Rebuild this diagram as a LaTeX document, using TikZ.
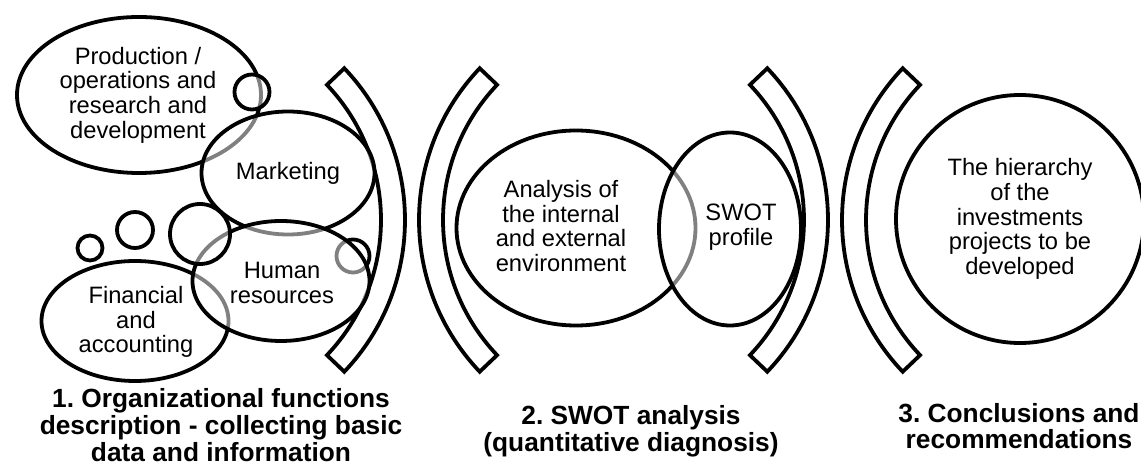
\documentclass[tikz,border=0pt]{standalone}
\usepackage{fontspec}
\setmainfont{Liberation Sans}
\usetikzlibrary{shapes.geometric}
\frenchspacing
\begin{document}
\begin{tikzpicture}[x=1pt,y=1pt,
  shp/.style={draw=black, line width=3.8pt, fill=white, fill opacity=0.5, draw opacity=1, inner sep=0pt, outer sep=0pt},
  ell/.style={shp, ellipse},
  circ/.style={shp, circle},
  lbl/.style={align=center, font=\fontsize{23.7}{24.7}\selectfont, inner sep=0pt, text opacity=1},
  ttl/.style={align=center, font=\fontsize{26.3}{26.6}\selectfont\bfseries, inner sep=0pt},
  brk/.style={draw=black, line width=3.8pt, fill=white, line join=miter}
]
\useasboundingbox (0,0) rectangle (1141,466);
% brackets
\draw[brk] ([shift={(185,246)}]43.6:196) arc[start angle=43.6,end angle=-43.6,radius=196] -- ([shift={(185,246)}]-43.6:220) arc[start angle=-43.6,end angle=43.6,radius=220] -- cycle;
\draw[brk] ([shift={(639,246)}]136.4:196) arc[start angle=136.4,end angle=223.6,radius=196] -- ([shift={(639,246)}]223.6:220) arc[start angle=223.6,end angle=136.4,radius=220] -- cycle;
\draw[brk] ([shift={(608,246)}]43.6:196) arc[start angle=43.6,end angle=-43.6,radius=196] -- ([shift={(608,246)}]-43.6:220) arc[start angle=-43.6,end angle=43.6,radius=220] -- cycle;
\draw[brk] ([shift={(1062,246)}]136.4:196) arc[start angle=136.4,end angle=223.6,radius=196] -- ([shift={(1062,246)}]223.6:220) arc[start angle=223.6,end angle=136.4,radius=220] -- cycle;
% shapes section 1
\node[ell, minimum width=244pt, minimum height=156pt] (prodE) at (139,371) {};
\node[circ, minimum size=35pt] (c0) at (252,374) {};
\node[ell, minimum width=173pt, minimum height=123pt] (markE) at (288,293) {};
\node[ell, minimum width=187pt, minimum height=120pt] (finE) at (135,145) {};
\node[circ, minimum size=33pt] (c4) at (353,210) {};
\node[ell, minimum width=177pt, minimum height=120pt] (hrE) at (281,185) {};
\node[circ, minimum size=25pt] (c1) at (90,218) {};
\node[circ, minimum size=36pt] (c2) at (135,236) {};
\node[circ, minimum size=60pt] (c3) at (200,232) {};
% section 2
\node[ell, minimum width=239pt, minimum height=195pt] (anaE) at (576,238) {};
\node[ell, minimum width=142pt, minimum height=193pt] (swotE) at (730,237) {};
% section 3
\node[circ, minimum size=248pt] (hierC) at (1020,247) {};
% labels
\node[lbl] (prodT) at (138,371) {Production /\\operations and\\research and\\development};
\node[lbl] (markT) at (288,293) {Marketing};
\node[lbl] (hrT) at (282,183) {Human\\resources};
\node[lbl] (finT) at (136,144) {Financial\\and\\accounting};
\node[lbl] (anaT) at (561,240) {Analysis of\\the internal\\and external\\environment};
\node[lbl] (swotT) at (741,239) {SWOT\\profile};
\node[lbl] (hierT) at (1020,247) {The hierarchy\\of the\\investments\\projects to be\\developed};
% titles
\node[ttl] (t1) at (221,41) {1. Organizational functions\\description - collecting basic\\data and information};
\node[ttl] (t2) at (631,35) {2. SWOT analysis\\(quantitative diagnosis)};
\node[ttl] (t3) at (1019,40) {3. Conclusions and\\recommendations};
\end{tikzpicture}
\end{document}
